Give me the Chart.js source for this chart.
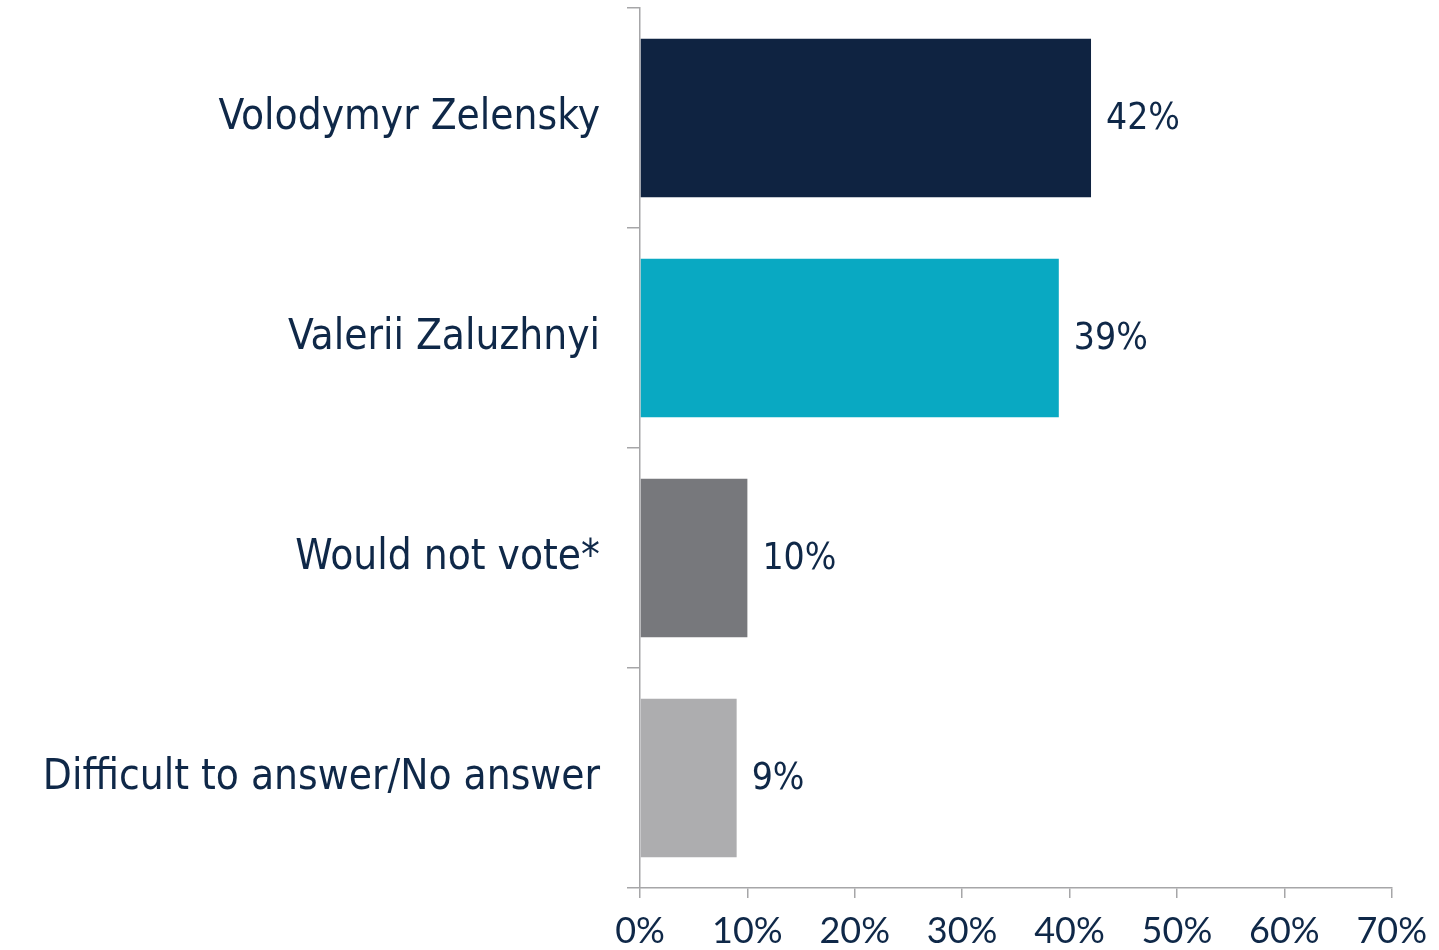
<!DOCTYPE html>
<html>
<head>
<meta charset="utf-8">
<script src="https://cdn.jsdelivr.net/npm/chart.js@4.4.1/dist/chart.umd.min.js"></script>
<style>
  html, body { margin: 0; padding: 0; background: #fff; }
  #wrap { position: relative; width: 1439px; height: 950px; }
</style>
</head>
<body>
<div id="wrap"><canvas id="voteChart"></canvas></div>
<script>
const categories = ['Volodymyr Zelensky', 'Valerii Zaluzhnyi', 'Would not vote*', 'Difficult to answer/No answer'];
const shares = [42, 39, 10, 9];
const barColors = ['#0F2341', '#09A9C2', '#77787C', '#ADADAF'];
const xTicks = [0, 10, 20, 30, 40, 50, 60, 70];

const navy = '#0F2848';
const axisGray = '#A6A6A8';
const labelFont = '"DejaVu Sans Condensed", "DejaVu Sans", sans-serif';

// value text next to each bar end
const valueLabels = {
  id: 'valueLabels',
  afterDatasetsDraw(chart) {
    const ctx = chart.ctx;
    const meta = chart.getDatasetMeta(0);
    ctx.save();
    ctx.fillStyle = navy;
    ctx.font = '37px ' + labelFont;
    ctx.textAlign = 'left';
    ctx.textBaseline = 'middle';
    meta.data.forEach((bar, i) => {
      ctx.fillText(shares[i] + '%', bar.x + 15, bar.y + 1);
    });
    ctx.restore();
  }
};

function drawChart() {
  new Chart(document.getElementById('voteChart'), {
    type: 'bar',
    data: {
      labels: categories,
      datasets: [{
        data: shares,
        backgroundColor: barColors,
        borderWidth: 0,
        categoryPercentage: 1,
        barPercentage: 0.72
      }]
    },
    plugins: [valueLabels],
    options: {
      indexAxis: 'y',
      responsive: true,
      maintainAspectRatio: false,
      animation: false,
      layout: { padding: { top: 8, right: 47, left: 0, bottom: 0 } },
      plugins: { legend: { display: false }, tooltip: { enabled: false } },
      scales: {
        x: {
          min: 0,
          max: 70,
          afterBuildTicks: s => { s.ticks = xTicks.map(v => ({ value: v })); },
          afterFit: s => { s.height = 62; },
          border: { display: true, color: axisGray, width: 1.5 },
          grid: { drawOnChartArea: false, drawTicks: true, tickLength: 10, color: axisGray, lineWidth: 1.5 },
          ticks: {
            color: navy,
            padding: 12,
            font: { family: 'Lato, sans-serif', size: 36 },
            callback: v => v + '%'
          }
        },
        y: {
          afterFit: s => { s.width = 640; s.paddingTop = 0; s.paddingBottom = 0; },
          border: { display: true, color: axisGray, width: 1.5 },
          grid: { offset: true, drawOnChartArea: false, drawTicks: true, tickLength: 13, color: axisGray, lineWidth: 1.5 },
          ticks: {
            color: navy,
            padding: 27,
            font: { family: labelFont, size: 42 }
          }
        }
      }
    }
  });
}

Promise.all([
  document.fonts.load('36px Lato'),
  document.fonts.load('42px "DejaVu Sans Condensed"')
]).then(drawChart, drawChart);
</script>
</body>
</html>
